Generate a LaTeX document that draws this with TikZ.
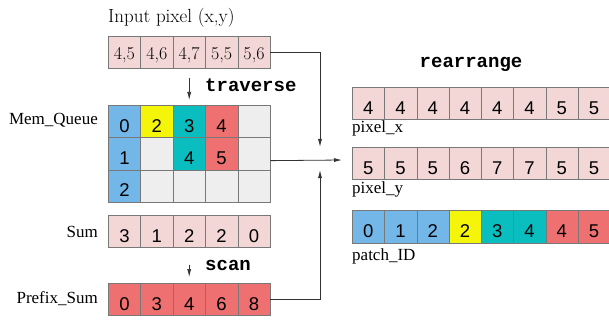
\documentclass[tikz,border=0pt]{standalone}
\usepackage{fontspec}
\usepackage{tikz}
\usetikzlibrary{arrows.meta}
\newfontfamily\labfont{Liberation Serif}
\newfontfamily\digfont{Liberation Sans}
\newfontfamily\codefont{Liberation Mono}
\definecolor{cellpink}{RGB}{243,215,215}
\definecolor{cellblue}{RGB}{115,182,232}
\definecolor{cellyel}{RGB}{245,245,10}
\definecolor{cellteal}{RGB}{10,190,192}
\definecolor{cellred}{RGB}{238,112,112}
\definecolor{cellgray}{RGB}{238,238,238}
\definecolor{cellline}{RGB}{120,120,120}

\tikzset{
  lcell/.style={draw=cellline, anchor=north west, inner sep=0pt, minimum width=32.4pt, minimum height=32.3pt,
    text height=22pt, text depth=0pt, font=\digfont\fontsize{18.5}{18.5}\selectfont},
  rcell/.style={lcell, minimum width=32.25pt},
  lab/.style={inner sep=0pt, font=\labfont\fontsize{17}{17}\selectfont},
  code/.style={inner sep=0pt, font=\codefont\bfseries\fontsize{19}{19}\selectfont},
  flow/.style={->, draw=black!80, line width=0.8pt}
}

\begin{document}
\begin{tikzpicture}[x=1pt, y=-1pt, >={Latex[length=8pt,width=4pt]}]
  % Bildbereich
  \useasboundingbox (0,0) rectangle (609,323);
  \clip (0,0) rectangle (609,323);
  % Eingabe
  \node[anchor=base west, inner sep=0pt, font=\fontsize{19}{19}\selectfont] (title) at (108,23) {Input pixel (x,y)};
  \foreach \v [count=\i] in {{4,5},{4,6},{4,7},{5,5},{5,6}}
    \node[lcell, fill=cellpink, font=\rmfamily\fontsize{18}{18}\selectfont, text height=15pt] (in\i) at ({108+(\i-1)*32.4},36) {\v};
  % Mem_Queue
  \foreach \r/\c/\v/\f in {1/1/0/cellblue, 1/2/2/cellyel, 1/3/3/cellteal, 1/4/4/cellred, 1/5//cellgray,
      2/1/1/cellblue, 2/2//cellgray, 2/3/4/cellteal, 2/4/5/cellred, 2/5//cellgray,
      3/1/2/cellblue, 3/2//cellgray, 3/3//cellgray, 3/4//cellgray, 3/5//cellgray}
    \node[lcell, fill=\f] (mq-\r-\c) at ({108+(\c-1)*32.4},{105+(\r-1)*32.3}) {\v};
  % Sum und Prefix_Sum
  \foreach \v [count=\i] in {3,1,2,2,0}
    \node[lcell, fill=cellpink] (sum\i) at ({108+(\i-1)*32.4},215) {\v};
  \foreach \v [count=\i] in {0,3,4,6,8}
    \node[lcell, fill=cellred] (ps\i) at ({108+(\i-1)*32.4},283) {\v};
  % Beschriftung links
  \node[lab, anchor=base east] (mqlab) at (98,125) {Mem\_Queue};
  \node[lab, anchor=base east] (sumlab) at (98,237) {Sum};
  \node[lab, anchor=base east] (pslab) at (98,303) {Prefix\_Sum};
  \node[code, anchor=base west] (trav) at (205,92) {traverse};
  \node[code, anchor=base west] (scanlab) at (205,270) {scan};
  \draw[->, draw=black!80, line width=0.7pt] ([yshift=-9pt]in3.south) -- ([yshift=5pt]mq-1-3.north);
  \draw[->, draw=black!80, line width=0.7pt] ([yshift=-17pt]sum3.south) -- ([yshift=6pt]ps3.north);
  % rechte Seite
  \node[code, anchor=base] (rearr) at (471,68) {rearrange};
  \foreach \v [count=\i] in {4,4,4,4,4,4,5,5}
    \node[rcell, fill=cellpink] (px\i) at ({352+(\i-1)*32.25},87) {\v};
  \foreach \v [count=\i] in {5,5,5,6,7,7,5,5}
    \node[rcell, fill=cellpink] (py\i) at ({352+(\i-1)*32.25},147) {\v};
  \foreach \v/\f [count=\i] in {0/cellblue,1/cellblue,2/cellblue,2/cellyel,3/cellteal,4/cellteal,4/cellred,5/cellred}
    \node[rcell, fill=\f, minimum height=33pt] (pid\i) at ({352+(\i-1)*32.25},210) {\v};
  \node[lab, anchor=base west] (pxlab) at (352,133) {pixel\_x};
  \node[lab, anchor=base west] (pylab) at (352,193) {pixel\_y};
  \node[lab, anchor=base west] (pidlab) at (352,260) {patch\_ID};
  % Verbindungen
  \coordinate (xdown) at (320,147);
  \coordinate (yin) at (342,160);
  \coordinate (xup) at (320,170);
  \draw[flow] (in5.east) -| (xdown);
  \draw[flow] ([yshift=-7pt]mq-2-5.east) -- (yin);
  \draw[flow] (ps5.east) -| (xup);
\end{tikzpicture}
\end{document}
